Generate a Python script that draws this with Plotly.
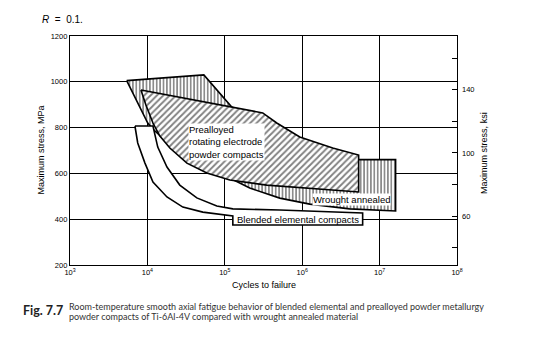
import numpy as np
import plotly.graph_objects as go

MPA_PER_KSI = 6.895

# Wrought annealed band (vertical hatch) - boundary in (cycles, MPa)
wrought_cycles = [5.4e3, 5.36e4, 1.23e5, 9.3e5, 5.36e6, 1.61e7, 1.61e7, 4.1e6,
                  1.25e6, 5.13e5, 2.1e5, 1.09e5, 5.86e4, 3.24e4, 1.95e4, 1.14e4, 1.01e4]
wrought_stress = [1005, 1030, 890, 746, 660, 660, 436, 445,
                  466, 492, 536, 584, 615, 658, 724, 798, 820]

# Prealloyed rotating electrode powder compacts (diagonal hatch)
prealloyed_cycles = [8.25e3, 3.09e5, 4.69e5, 9.3e5, 2.48e6, 5.36e6, 5.36e6, 1.25e6,
                     3.48e5, 1.16e5, 5.86e4, 3.24e4, 1.95e4, 1.45e4, 1.18e4, 9.57e3]
prealloyed_stress = [964, 864, 820, 759, 711, 680, 519, 536,
                     549, 571, 602, 645, 711, 763, 820, 899]

# Blended elemental compacts (white band)
blended_cycles = [6.9e3, 1.18e4, 1.36e4, 1.79e4, 2.62e4, 4.35e4, 7.89e4, 1.27e5, 5.13e5,
                  6.04e6, 6.04e6, 1.27e5, 1.27e5, 5.2e4, 2.87e4, 1.79e4, 1.18e4, 9.3e3, 7.5e3]
blended_stress = [807, 807, 715, 628, 549, 493, 458, 445, 440,
                  427, 375, 375, 414, 431, 453, 497, 562, 645, 733]

x_tickvals = [1e3, 1e4, 1e5, 1e6, 1e7, 1e8]
x_ticktext = ["10<sup>3</sup>", "10<sup>4</sup>", "10<sup>5</sup>",
              "10<sup>6</sup>", "10<sup>7</sup>", "10<sup>8</sup>"]
y_tickvals = [200, 400, 600, 800, 1000, 1200]
ksi_tickvals = [40, 60, 80, 100, 120, 140, 160]
ksi_ticktext = ["", "60", "", "100", "", "140", ""]

# label anchors (cycles, MPa)
label_prealloyed = (3.34e4, 737)
label_wrought = (4.35e6, 484)
label_blended = (8.75e5, 399)


def closed(a):
    return list(a) + [a[0]]


FONT = "Liberation Sans, Arial, sans-serif"
fig = go.Figure()

fig.add_trace(go.Scatter(
    x=closed(wrought_cycles), y=closed(wrought_stress), mode="lines", fill="toself",
    fillcolor="white",
    fillpattern=dict(shape="|", size=3.4, solidity=0.45, fgcolor="black", bgcolor="white"),
    line=dict(color="black", width=1.6), hoverinfo="skip", showlegend=False))

fig.add_trace(go.Scatter(
    x=closed(prealloyed_cycles), y=closed(prealloyed_stress), mode="lines", fill="toself",
    fillcolor="white",
    fillpattern=dict(shape="/", size=4.5, solidity=0.4, fgcolor="black", bgcolor="white"),
    line=dict(color="black", width=1.6), hoverinfo="skip", showlegend=False))

fig.add_trace(go.Scatter(
    x=closed(blended_cycles), y=closed(blended_stress), mode="lines", fill="toself",
    fillcolor="white", line=dict(color="black", width=1.6),
    hoverinfo="skip", showlegend=False))

# dummy trace for secondary (ksi) axis
fig.add_trace(go.Scatter(x=[None], y=[None], yaxis="y2", showlegend=False, hoverinfo="skip"))

txt = dict(family=FONT, size=9.5, color="black")
fig.add_annotation(x=np.log10(label_prealloyed[0]), y=label_prealloyed[1], xref="x", yref="y",
                   text="Prealloyed<br>rotating electrode<br>powder compacts", showarrow=False,
                   xanchor="left", yanchor="middle", align="left", bgcolor="white",
                   borderpad=0, font=txt)
fig.add_annotation(x=np.log10(label_wrought[0]), y=label_wrought[1], xref="x", yref="y",
                   text="Wrought annealed", showarrow=False, xanchor="center", yanchor="middle",
                   bgcolor="white", borderpad=0, font=txt)
fig.add_annotation(x=np.log10(label_blended[0]), y=label_blended[1], xref="x", yref="y",
                   text="Blended elemental compacts", showarrow=False, xanchor="center",
                   yanchor="middle", font=txt)

# titles / captions (paper coords)
fig.add_annotation(x=-0.0774, y=1.074, xref="paper", yref="paper", xanchor="left",
                   yanchor="middle", text="<i>R</i>  =  0.1.", showarrow=False,
                   font=dict(family=FONT, size=10, color="black"))
fig.add_annotation(x=0.5, y=-0.087, xref="paper", yref="paper", xanchor="center",
                   yanchor="middle", text="Cycles to failure", showarrow=False,
                   font=dict(family=FONT, size=9, color="black"))
fig.add_annotation(x=-0.0774, y=0.5, xref="paper", yref="paper", textangle=-90,
                   xanchor="center", yanchor="middle",
                   text="Maximum stress, MPa", showarrow=False,
                   font=dict(family=FONT, size=9, color="black"))
fig.add_annotation(x=1.07, y=0.49, xref="paper", yref="paper", textangle=-90,
                   xanchor="center", yanchor="middle",
                   text="Maximum stress, ksi", showarrow=False,
                   font=dict(family=FONT, size=9, color="black"))
fig.add_annotation(x=-0.1265, y=-0.199, xref="paper", yref="paper", xanchor="left",
                   yanchor="middle", text="<b>Fig. 7.7</b>", showarrow=False,
                   font=dict(family="Lato, sans-serif", size=12.5, color="#222"))
cap_font = dict(family="Lato, sans-serif", size=9, color="#333")
fig.add_annotation(x=-0.0077, y=-0.183, xref="paper", yref="paper", xanchor="left",
                   yanchor="middle",
                   text=("Room-temperature smooth axial fatigue behavior of blended elemental "
                         "and prealloyed powder metallurgy"),
                   showarrow=False, font=cap_font)
fig.add_annotation(x=-0.0077, y=-0.227, xref="paper", yref="paper", xanchor="left",
                   yanchor="middle",
                   text="powder compacts of Ti-6Al-4V compared with wrought annealed material",
                   showarrow=False, font=cap_font)

fig.update_layout(
    width=538, height=352,
    margin=dict(l=70, r=80.5, t=36, b=87),
    paper_bgcolor="white", plot_bgcolor="white",
    xaxis=dict(type="log", range=[3, 8], tickvals=x_tickvals, ticktext=x_ticktext,
               showgrid=True, gridcolor="black", gridwidth=1, zeroline=False,
               showline=True, linecolor="black", linewidth=1.3, mirror=True, ticks="",
               tickfont=dict(family=FONT, size=7.5, color="black")),
    yaxis=dict(range=[200, 1200], tickvals=y_tickvals, showgrid=True, gridcolor="black",
               gridwidth=1, zeroline=False, showline=True, linecolor="black", linewidth=1.3,
               mirror=True, ticks="", tickfont=dict(family=FONT, size=7.5, color="black")),
    yaxis2=dict(overlaying="y", side="right",
                range=[200 / MPA_PER_KSI, 1200 / MPA_PER_KSI],
                tickvals=ksi_tickvals, ticktext=ksi_ticktext, ticks="inside", ticklen=5,
                tickcolor="black", showgrid=False, zeroline=False, showline=False,
                ticklabelstandoff=4,
                tickfont=dict(family=FONT, size=7.5, color="black")),
)

fig.write_html("out.html")
